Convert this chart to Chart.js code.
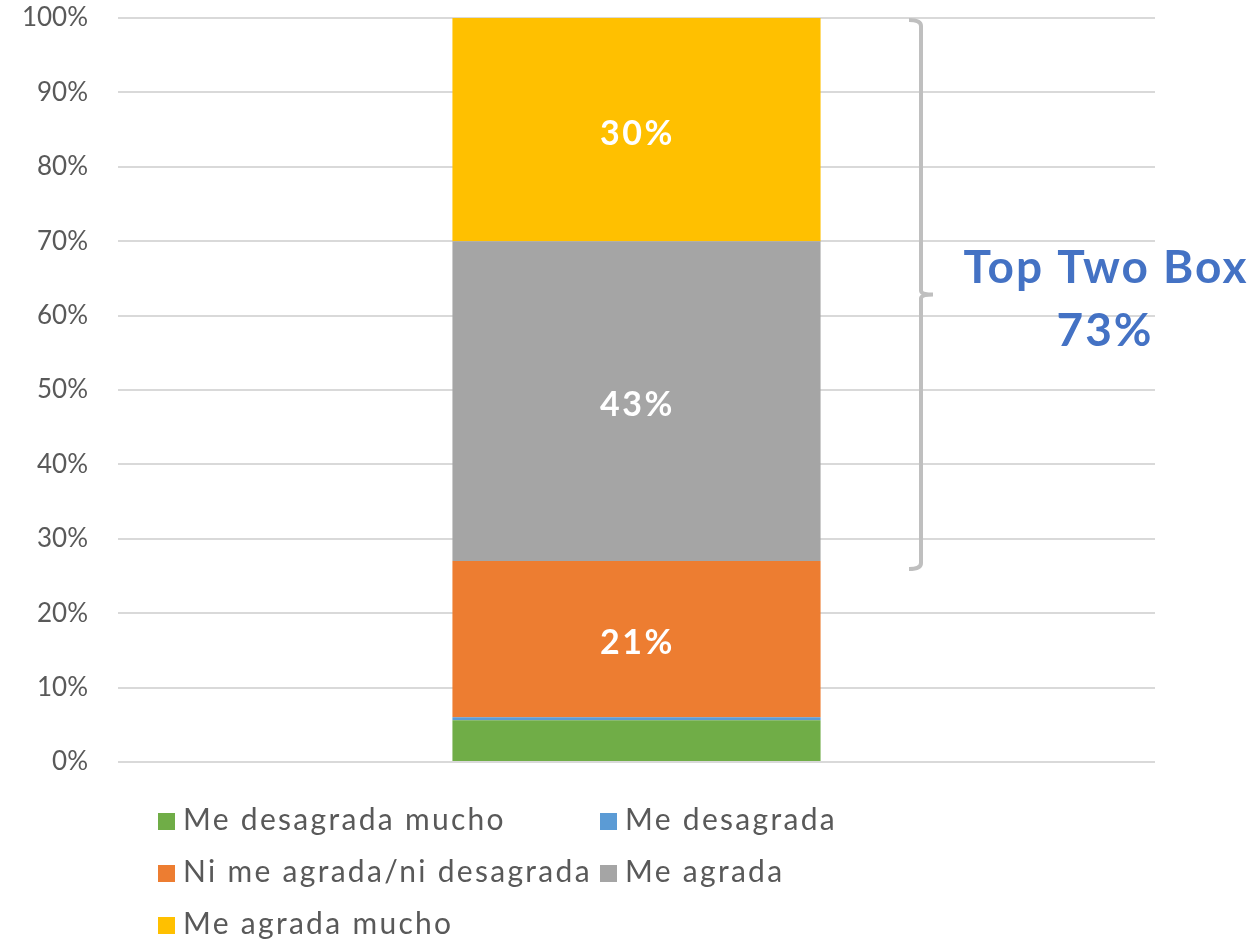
<!DOCTYPE html>
<html>
<head>
<meta charset="utf-8">
<script src="https://cdn.jsdelivr.net/npm/chart.js@4.4.1/dist/chart.umd.min.js"></script>
<style>
  html, body { margin: 0; padding: 0; background: #ffffff; }
  #wrap { position: relative; width: 1253px; height: 943px; overflow: hidden; }
  #chart { position: absolute; left: 0; top: 0; }
  #legend {
    position: absolute; left: 158px; top: 792px;
    display: grid; grid-template-columns: 442px auto;
    font-family: Lato, "Open Sans", sans-serif; font-size: 30px; color: #595959;
    letter-spacing: 2.3px;
  }
  .item { display: flex; align-items: center; height: 52px; white-space: nowrap; }
  .swatch { width: 17px; height: 17px; margin-right: 8px; margin-top: 6px; flex: none; }
</style>
</head>
<body>
<div id="wrap">
  <canvas id="chart" width="1253" height="943"></canvas>
  <div id="legend"></div>
</div>
<script>
// Survey answers, share of respondents (%)
const categories = [''];
const seriesNames = ['Me desagrada mucho', 'Me desagrada', 'Ni me agrada/ni desagrada', 'Me agrada', 'Me agrada mucho'];
const seriesValues = [5.6, 0.4, 21, 43, 30];
const seriesColors = ['#70AD47', '#5B9BD5', '#ED7D31', '#A5A5A5', '#FFC000'];
const yTicks = [0, 10, 20, 30, 40, 50, 60, 70, 80, 90, 100];
const topBoxSeries = [3, 4]; // "Me agrada" + "Me agrada mucho"
const topBoxTitle = 'Top Two Box';
const topBoxValue = 73;

const FONT = 'Lato, "Open Sans", sans-serif';

// White value labels inside the larger segments
const segmentLabels = {
  id: 'segmentLabels',
  afterDatasetsDraw(chart) {
    const ctx = chart.ctx;
    ctx.save();
    ctx.fillStyle = '#ffffff';
    ctx.font = 'bold 34px ' + FONT;
    ctx.letterSpacing = '2.5px';
    ctx.textAlign = 'center';
    ctx.textBaseline = 'middle';
    chart.data.datasets.forEach((ds, i) => {
      const v = ds.data[0];
      if (v < 10) return;
      const el = chart.getDatasetMeta(i).data[0];
      const cy = (el.y + el.base) / 2 + 4;
      ctx.fillText(Math.round(v) + '%', el.x + 1, cy);
    });
    ctx.restore();
  }
};

// Bracket grouping the two top answers, with its caption
const topBoxBracket = {
  id: 'topBoxBracket',
  afterDraw(chart) {
    const ctx = chart.ctx;
    const y = chart.scales.y;
    let below = 0;
    for (let i = 0; i < topBoxSeries[0]; i++) below += seriesValues[i];
    let total = below;
    topBoxSeries.forEach(i => total += seriesValues[i]);
    const yTop = y.getPixelForValue(total) + 2;
    const yBot = y.getPixelForValue(below) + 8;
    const yMid = (yTop + yBot) / 2;
    const x = 921, hook = 12;
    ctx.save();
    ctx.strokeStyle = '#BFBFBF';
    ctx.lineWidth = 4;
    ctx.beginPath();
    ctx.moveTo(x - hook, yTop);
    ctx.quadraticCurveTo(x, yTop, x, yTop + 6);
    ctx.lineTo(x, yMid - 4);
    ctx.quadraticCurveTo(x, yMid, x + hook, yMid);
    ctx.moveTo(x + hook, yMid);
    ctx.quadraticCurveTo(x, yMid, x, yMid + 4);
    ctx.lineTo(x, yBot - 6);
    ctx.quadraticCurveTo(x, yBot, x - hook, yBot);
    ctx.stroke();

    ctx.fillStyle = '#4472C4';
    ctx.font = 'bold 46px ' + FONT;
    ctx.letterSpacing = '2px';
    ctx.textAlign = 'center';
    ctx.textBaseline = 'alphabetic';
    ctx.fillText(topBoxTitle, 1106, 283);
    ctx.fillText(topBoxValue + '%', 1105, 346);
    ctx.restore();
  }
};

const chart = new Chart(document.getElementById('chart'), {
  type: 'bar',
  data: {
    labels: categories,
    datasets: seriesNames.map((name, i) => ({
      label: name,
      data: [seriesValues[i]],
      backgroundColor: seriesColors[i],
      borderWidth: 0
    }))
  },
  options: {
    responsive: false,
    animation: false,
    events: [],
    barPercentage: 1,
    categoryPercentage: 0.355,
    layout: { padding: { top: 18, right: 98, bottom: 181, left: 0 } },
    plugins: {
      legend: { display: false },
      tooltip: { enabled: false },
      title: { display: false }
    },
    scales: {
      x: {
        stacked: true,
        display: false,
        grid: { display: false }
      },
      y: {
        stacked: true,
        min: 0,
        max: 100,
        afterBuildTicks(scale) {
          scale.ticks = yTicks.map(v => ({ value: v }));
        },
        afterFit(scale) {
          scale.width = 118;
          // end labels may overhang the plot; the outer padding already leaves room
          scale.paddingTop = 0;
          scale.paddingBottom = 0;
        },
        border: { display: false },
        grid: { color: '#D9D9D9', lineWidth: 2, drawTicks: false },
        ticks: {
          padding: 30,
          color: '#595959',
          font: { family: FONT, size: 26 },
          callback: v => v + '%'
        }
      }
    }
  },
  plugins: [segmentLabels, topBoxBracket]
});

// Two-column legend built from the datasets
const legend = document.getElementById('legend');
chart.data.datasets.forEach(ds => {
  const item = document.createElement('div');
  item.className = 'item';
  const sw = document.createElement('span');
  sw.className = 'swatch';
  sw.style.background = ds.backgroundColor;
  const tx = document.createElement('span');
  tx.textContent = ds.label;
  item.appendChild(sw);
  item.appendChild(tx);
  legend.appendChild(item);
});
</script>
</body>
</html>
